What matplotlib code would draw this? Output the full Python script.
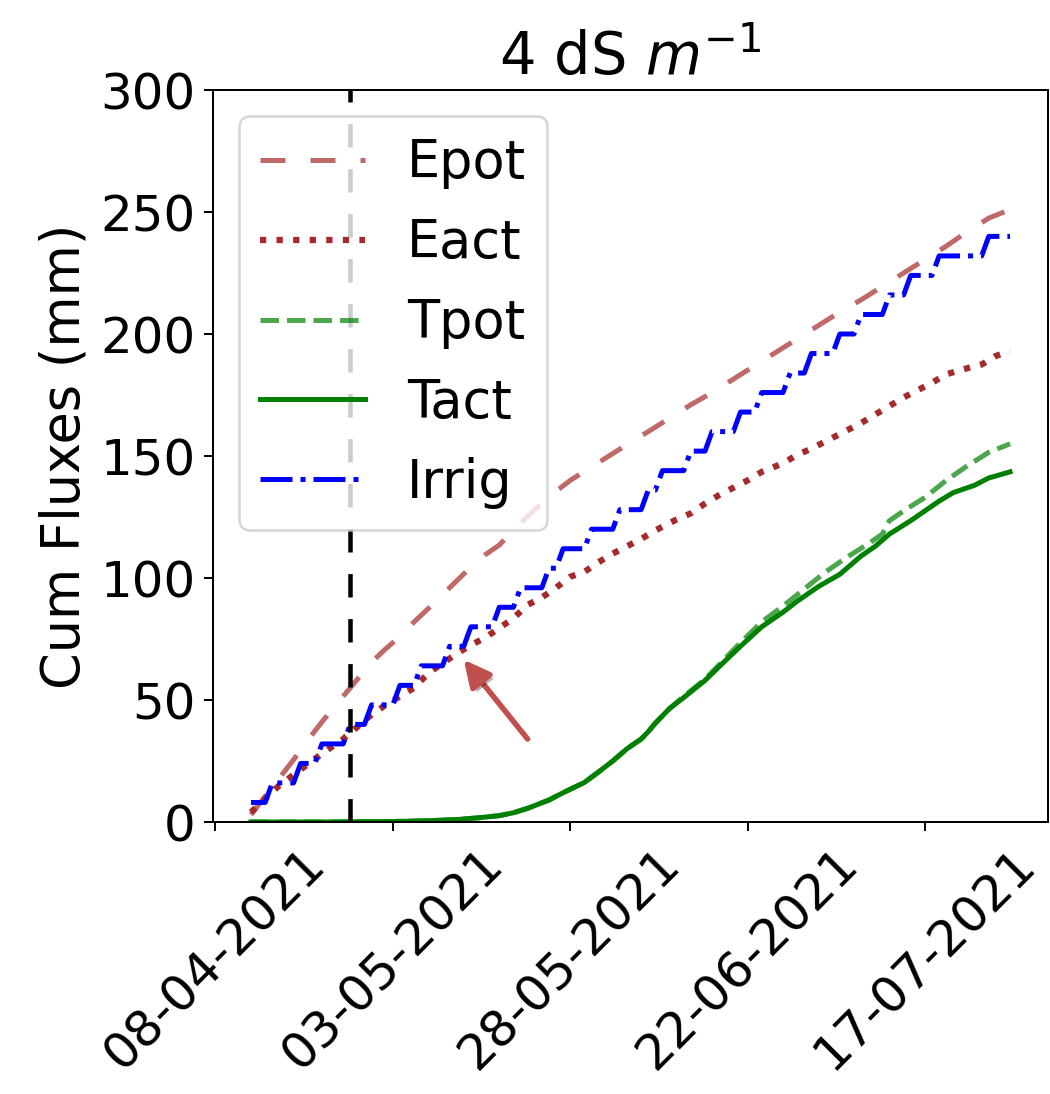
import matplotlib
matplotlib.use("Agg")
import matplotlib.pyplot as plt
import matplotlib.dates as mdates
import matplotlib.patheffects as pe
import pandas as pd

# ---------------- data (days counted from 08-04-2021) ----------------
base_date = "2021-04-08"

epot_day = [5, 7, 9, 11, 13, 15, 18, 20, 22, 24, 26, 28, 30, 33, 36, 38, 40, 43, 45, 48, 50,
            53, 56, 59, 61, 64, 67, 70, 73, 76, 79, 82, 85, 88, 91, 94, 97, 100, 103, 106, 109, 112]
epot_val = [3, 10.5, 18, 25.5, 33.5, 41, 51.5, 58.5, 65.5, 71, 76, 82, 87.5, 96, 104.5, 109.5, 113.5,
            122.5, 128, 135.5, 140, 145.5, 151, 156.5, 160, 165.5, 171, 176, 181.5, 187, 192.5, 198,
            203.5, 209, 214, 219.5, 225, 230.5, 236, 242, 247.5, 251]

eact_day = [5, 7, 9, 12, 15, 18, 20, 22, 24, 26, 28, 30, 32, 34, 36, 38, 40, 42, 44, 46, 48, 50,
            52, 54, 56, 58, 60, 62, 65, 67, 69, 71, 73, 75, 77, 80, 82, 84, 86, 88, 91, 93, 95, 97,
            99, 101, 103, 106, 108, 110, 112]
eact_val = [4, 9.5, 15, 21.5, 28, 34, 39, 44, 48, 51.5, 55, 61, 65, 69, 72.5, 75.5, 79.5, 83.5, 89,
            92, 96, 100.5, 102.5, 106.5, 110, 113, 116, 119.5, 124, 126.5, 130.5, 134, 137, 140,
            143.5, 147, 150.5, 153, 156, 159, 163.5, 167, 170.5, 174, 177, 180, 183.5, 186, 187.5,
            191, 193]

tpot_day = [5, 15, 25, 30, 34, 37, 40, 42, 44, 47, 49, 52, 54, 56, 58, 60, 61, 62, 64, 66, 69, 72,
            74, 77, 80, 83, 86, 89, 92, 94, 95, 97, 100, 103, 106, 109, 112]
tpot_val = [0, 0, 0.2, 0.5, 1.0, 1.7, 2.6, 3.8, 5.6, 9, 12, 16.2, 20.5, 25, 30, 34, 37, 40.5, 46.5,
            51.5, 58.5, 67.5, 73.5, 82, 88.5, 95.5, 102.5, 108.5, 114, 118, 123.5, 127.5, 133, 140,
            146, 151.5, 155]

tact_day = [5, 15, 25, 30, 34, 37, 40, 42, 44, 47, 49, 52, 54, 56, 58, 60, 61, 62, 64, 66, 69, 72,
            74, 77, 80, 82, 85, 88, 91, 93, 95, 98, 100, 102, 104, 107, 109, 112]
tact_val = [0, 0, 0.2, 0.5, 1.0, 1.7, 2.6, 3.8, 5.6, 9, 12, 16.2, 20.5, 25, 30, 34, 37, 40.5, 46.5,
            51, 58, 66.5, 72, 80, 86, 90.5, 96.5, 101.5, 109, 113, 118, 123.5, 127.5, 131.5, 135,
            138, 141, 143.5]

# irrigation: start level, then (day before the jump, new cumulative level)
irrig_start_day, irrig_start_val = 5, 8
irrig_rise_day = [7, 11, 14, 18, 21, 25, 28, 32, 35, 39, 42, 46, 48, 52, 56, 60, 62, 66, 69, 73,
                  76, 80, 83, 87, 90, 94, 97, 101, 108]
irrig_level = [16, 24, 32, 40, 48, 56, 64, 72, 80, 88, 96, 104, 112, 120, 128, 136, 144, 152, 160,
               168, 176, 184, 192, 200, 208, 216, 224, 232, 240]
irrig_end_day = 112

vline_date = "2021-04-27"
arrow_head = ("2021-05-13", 66.5)
arrow_tail = ("2021-05-22", 34)

xtick_dates = ["2021-04-08", "2021-05-03", "2021-05-28", "2021-06-22", "2021-07-17"]
ytick_vals = [0, 50, 100, 150, 200, 250, 300]

# ---------------- helpers ----------------
b = pd.Timestamp(base_date)
def to_dates(days):
    return [b + pd.Timedelta(days=int(d)) for d in days]

# corner vertices of the irrigation staircase (daily series shape)
ir_x = [irrig_start_day]
ir_y = [irrig_start_val]
prev = irrig_start_val
for d, lv in zip(irrig_rise_day, irrig_level):
    ir_x += [d, d + 1]
    ir_y += [prev, lv]
    prev = lv
ir_x.append(irrig_end_day)
ir_y.append(prev)

# ---------------- figure ----------------
DPI = 180
fig = plt.figure(figsize=(1050 / DPI, 1094 / DPI), dpi=DPI)
ax = fig.add_axes([213 / 1050, 1 - 822 / 1094, (1048 - 213) / 1050, (822 - 90) / 1094])

ax.plot(to_dates(epot_day), epot_val, color="brown", alpha=0.7, lw=2,
        linestyle=(0, (5, 5)), label="Epot")
ax.plot(to_dates(eact_day), eact_val, color="brown", lw=2.5, linestyle=":", label="Eact")
ax.plot(to_dates(tpot_day), tpot_val, color="green", alpha=0.7, lw=2, linestyle="--", label="Tpot")
ax.plot(to_dates(tact_day), tact_val, color="green", lw=2, linestyle="-", label="Tact")
ax.plot(to_dates(ir_x), ir_y, color="blue", lw=2, linestyle="-.", label="Irrig")

ax.axvline(pd.Timestamp(vline_date), color="black", lw=1.8, linestyle=(0, (5.2, 4.8)))

ax.annotate("", xy=(pd.Timestamp(arrow_head[0]), arrow_head[1]),
            xytext=(pd.Timestamp(arrow_tail[0]), arrow_tail[1]),
            arrowprops=dict(arrowstyle="-|>", color="#c0504d", lw=2.2, mutation_scale=22,
                            shrinkA=0, shrinkB=0,
                            path_effects=[pe.SimplePatchShadow(offset=(1.5, -1.5), alpha=0.35),
                                          pe.Normal()]))

ax.set_ylim(0, 300)
ax.set_yticks(ytick_vals)
ax.set_xticks([pd.Timestamp(t) for t in xtick_dates])
ax.xaxis.set_major_formatter(mdates.DateFormatter("%d-%m-%Y"))
ax.tick_params(axis="both", labelsize=20)
plt.setp(ax.get_xticklabels(), rotation=45)

ax.set_ylabel("Cum Fluxes (mm)", fontsize=21)
ax.set_title("4 dS $m^{-1}$", fontsize=23)

ax.legend(loc="upper left", fontsize=21, labelspacing=0.53, handlelength=2.0)

fig.savefig("out.png", dpi=DPI)
